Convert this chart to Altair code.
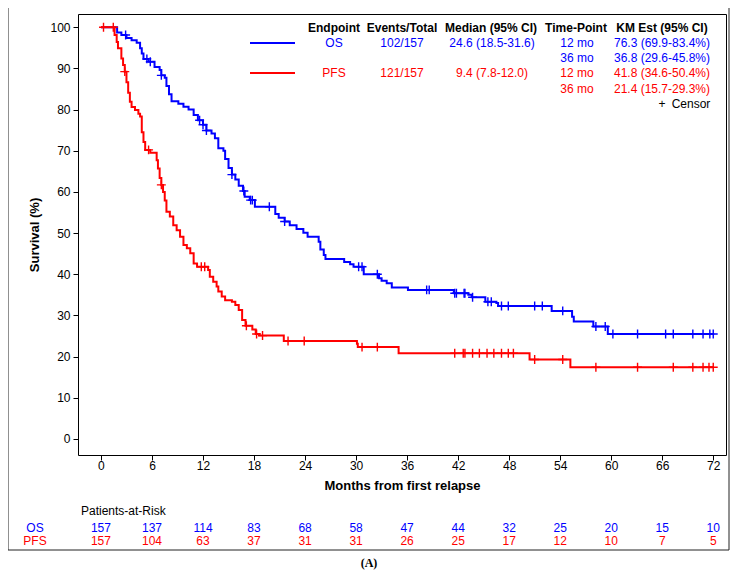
import altair as alt
import pandas as pd

# ---------------- data ----------------
os_t = [0, 1.9, 2.4, 3.0, 3.6, 4.2, 4.6, 4.8, 5.0, 5.6, 6.3, 6.9, 7.1, 7.5, 7.7, 8.0, 8.3, 9.1, 9.7,
        10.3, 10.9, 11.4, 12.0, 12.4, 13.0, 13.4, 13.8, 14.4, 14.6, 15.0, 15.4, 15.8, 16.2, 16.7, 16.9,
        17.5, 18.1, 20.5, 20.9, 21.6, 22.2, 23.0, 23.8, 24.3, 25.6, 25.8, 26.2, 26.4, 28.6, 29.3, 29.7,
        30.9, 32.7, 33.0, 33.6, 34.2, 36.1, 41.5, 43.2, 43.6, 45.2, 46.5, 46.7, 53.0, 55.4, 55.6, 57.9,
        59.6, 72.0]
os_s = [100, 98.7, 98.1, 97.4, 96.8, 96.2, 94.9, 93.6, 92.3, 91.6, 90.3, 89.6, 88.3, 87.7, 85.7, 83.7,
        82.0, 81.4, 80.7, 80.0, 78.7, 77.4, 76.3, 74.9, 74.2, 73.0, 70.6, 70.0, 68.0, 65.8, 64.2, 63.0,
        61.5, 60.2, 58.8, 58.0, 56.4, 54.6, 53.7, 52.8, 51.9, 51.0, 50.1, 49.1, 47.9, 46.0, 44.7, 43.7,
        43.0, 42.4, 41.8, 40.0, 39.0, 38.4, 37.8, 36.8, 36.2, 35.4, 35.0, 34.4, 33.3, 33.0, 32.3, 31.1,
        29.7, 28.5, 27.3, 25.5, 25.5]
os_cens = [2.9, 5.4, 5.8, 7.1, 11.6, 12.0, 12.4, 15.4, 16.8, 17.6, 17.8, 19.8, 21.6, 30.3, 30.7, 32.5,
           38.3, 38.6, 41.6, 41.8, 42.7, 42.8, 43.7, 45.5, 45.9, 47.1, 47.9, 51.0, 51.9, 54.3, 58.2,
           59.3, 60.2, 63.1, 66.4, 67.3, 69.6, 70.8, 71.6, 72.0]

pfs_t = [0, 1.6, 1.85, 2.0, 2.4, 2.6, 2.8, 3.0, 3.2, 3.4, 3.6, 4.0, 4.4, 4.6, 4.8, 5.0, 5.2, 5.8, 6.55,
         6.7, 6.9, 7.1, 7.3, 7.5, 7.7, 8.1, 8.5, 8.9, 9.3, 9.7, 10.1, 10.5, 10.9, 11.3, 12.6, 12.8, 13.2,
         13.6, 13.8, 14.2, 14.6, 15.4, 15.8, 16.2, 16.6, 17.0, 17.8, 18.2, 18.6, 21.5, 30.1, 30.2, 35.0,
         50.4, 55.2, 72.0]
pfs_s = [100, 98.1, 96.4, 94.9, 92.4, 90.8, 89.2, 86.6, 84.1, 81.9, 80.6, 79.9, 79.0, 78.3, 74.5, 72.1,
         70.2, 69.5, 67.7, 65.7, 63.4, 61.7, 60.0, 57.9, 55.2, 54.0, 51.9, 50.7, 49.1, 47.1, 46.3, 45.1,
         42.6, 41.8, 41.0, 39.4, 38.2, 37.0, 35.8, 34.6, 33.7, 33.3, 32.5, 31.3, 28.9, 27.5, 26.6, 25.5,
         25.1, 23.8, 23.1, 22.3, 20.8, 19.3, 17.4, 17.4]
pfs_cens = [0.3, 1.45, 2.8, 5.6, 7.1, 11.8, 12.2, 17.1, 18.3, 19.0, 22.0, 23.9, 30.7, 32.5, 41.6, 42.6,
            42.8, 43.7, 44.5, 45.4, 46.2, 47.1, 47.9, 48.5, 51.0, 54.3, 58.2, 63.1, 67.3, 69.6, 70.8,
            71.5, 72.0]

risk_months = [0, 6, 12, 18, 24, 30, 36, 42, 48, 54, 60, 66, 72]
os_risk = [157, 137, 114, 83, 68, 58, 47, 44, 32, 25, 20, 15, 10]
pfs_risk = [157, 104, 63, 37, 31, 31, 26, 25, 17, 12, 10, 7, 5]

BLUE = "#0000ff"
RED = "#ff0000"
FONT = "Liberation Sans"
W, H = 648, 441
XDOM = [-2.7, 73.5]
YDOM = [-3.9, 103.2]


def surv_at(ts, ss, t):
    val = ss[0]
    for a, b in zip(ts, ss):
        if a <= t:
            val = b
    return val


lines = pd.DataFrame(
    [{"t": a, "s": b, "ep": "OS"} for a, b in zip(os_t, os_s)]
    + [{"t": a, "s": b, "ep": "PFS"} for a, b in zip(pfs_t, pfs_s)]
)
cens = pd.DataFrame(
    [{"t": c, "s": surv_at(os_t, os_s, c), "ep": "OS"} for c in os_cens]
    + [{"t": c, "s": surv_at(pfs_t, pfs_s, c), "ep": "PFS"} for c in pfs_cens]
)

xscale = alt.Scale(domain=XDOM, nice=False, zero=False)
yscale = alt.Scale(domain=YDOM, nice=False, zero=False)
cscale = alt.Scale(domain=["OS", "PFS"], range=[BLUE, RED])

xaxis = alt.Axis(values=risk_months, title="Months from first relapse", grid=False, domain=False,
                 tickSize=5, tickColor="black", labelColor="black", labelFont=FONT, labelFontSize=12,
                 labelPadding=0, titleFont=FONT, titleFontSize=13, titleFontWeight="bold",
                 titleColor="black", titlePadding=8)
yaxis = alt.Axis(values=list(range(0, 101, 10)), title="Survival (%)", grid=False, domain=False,
                 tickSize=5, tickColor="black", labelColor="black", labelFont=FONT, labelFontSize=12,
                 labelPadding=3, titleFont=FONT, titleFontSize=13, titleFontWeight="bold",
                 titleColor="black", titlePadding=8)

curves = alt.Chart(lines).mark_line(interpolate="step-after", strokeWidth=2).encode(
    x=alt.X("t:Q", scale=xscale, axis=xaxis),
    y=alt.Y("s:Q", scale=yscale, axis=yaxis),
    color=alt.Color("ep:N", scale=cscale, legend=None),
    detail="ep:N",
)

censors = alt.Chart(cens).mark_point(
    shape="M -1 0 L 1 0 M 0 -1 L 0 1", filled=False, size=80, strokeWidth=1.4, opacity=1
).encode(
    x=alt.X("t:Q", scale=xscale, axis=None),
    y=alt.Y("s:Q", scale=yscale, axis=None),
    color=alt.Color("ep:N", scale=cscale, legend=None),
)

# ---------------- legend table (pixel positions inside plot area) ----------------
OX, OY = 78, 14  # page offset of plot origin
hdr_cols = ["Endpoint", "Events/Total", "Median (95% CI)", "Time-Point", "KM Est (95% CI)"]
hdr_x = [334, 402, 491, 576, 662]
body = [
    ("OS", 334, 43, BLUE), ("102/157", 402, 43, BLUE), ("24.6 (18.5-31.6)", 492, 43, BLUE),
    ("12 mo", 577, 43, BLUE), ("76.3 (69.9-83.4%)", 662, 43, BLUE),
    ("36 mo", 577, 58, BLUE), ("36.8 (29.6-45.8%)", 662, 58, BLUE),
    ("PFS", 334, 73, RED), ("121/157", 402, 73, RED), ("9.4 (7.8-12.0)", 492, 73, RED),
    ("12 mo", 577, 73, RED), ("41.8 (34.6-50.4%)", 662, 73, RED),
    ("36 mo", 577, 89, RED), ("21.4 (15.7-29.3%)", 662, 89, RED),
    ("+", 662, 104, "black"), ("Censor", 691, 104, "black"),
]
hdr_df = pd.DataFrame({"txt": hdr_cols, "px": [x - OX for x in hdr_x], "py": [28 - OY] * 5})
body_df = pd.DataFrame({"txt": [b[0] for b in body], "px": [b[1] - OX for b in body],
                        "py": [b[2] - OY for b in body], "col": [b[3] for b in body]})

hdr = alt.Chart(hdr_df).mark_text(font=FONT, fontSize=12, fontWeight="bold", color="black",
                                  align="center", baseline="middle").encode(
    x=alt.X("px:Q", scale=None, axis=None), y=alt.Y("py:Q", scale=None, axis=None), text="txt:N")
bod = alt.Chart(body_df).mark_text(font=FONT, fontSize=12, align="center", baseline="middle").encode(
    x=alt.X("px:Q", scale=None, axis=None), y=alt.Y("py:Q", scale=None, axis=None), text="txt:N",
    color=alt.Color("col:N", scale=None))

leg_df = pd.DataFrame({"x1": [250 - OX, 250 - OX], "x2": [295 - OX, 295 - OX],
                       "yy": [43 - OY, 73 - OY], "col": [BLUE, RED]})
leg_lines = alt.Chart(leg_df).mark_rule(strokeWidth=2).encode(
    x=alt.X("x1:Q", scale=None, axis=None), x2="x2:Q",
    y=alt.Y("yy:Q", scale=None, axis=None), color=alt.Color("col:N", scale=None))

# ---------------- risk table ----------------
risk_df = pd.DataFrame(
    [{"t": m, "n": str(n), "row": "OS", "py": 528 - OY} for m, n in zip(risk_months, os_risk)]
    + [{"t": m, "n": str(n), "row": "PFS", "py": 541 - OY} for m, n in zip(risk_months, pfs_risk)]
)
risk = alt.Chart(risk_df).mark_text(font=FONT, fontSize=12, align="center", baseline="middle").encode(
    x=alt.X("t:Q", scale=xscale, axis=None),
    y=alt.Y("py:Q", scale=None, axis=None),
    text="n:N",
    color=alt.Color("row:N", scale=cscale, legend=None),
)
rlab_df = pd.DataFrame({"txt": ["Patients-at-Risk", "OS", "PFS"],
                        "px": [81 - OX, 35 - OX, 35 - OX],
                        "py": [511 - OY, 528 - OY, 541 - OY],
                        "col": ["black", BLUE, RED]})
rlab1 = alt.Chart(rlab_df.iloc[:1]).mark_text(font=FONT, fontSize=12, align="left", baseline="middle",
                                              color="black").encode(
    x=alt.X("px:Q", scale=None, axis=None), y=alt.Y("py:Q", scale=None, axis=None), text="txt:N")
rlab2 = alt.Chart(rlab_df.iloc[1:]).mark_text(font=FONT, fontSize=12, align="center",
                                              baseline="middle").encode(
    x=alt.X("px:Q", scale=None, axis=None), y=alt.Y("py:Q", scale=None, axis=None), text="txt:N",
    color=alt.Color("col:N", scale=None))

caption_df = pd.DataFrame({"txt": ["(A)"], "px": [369 - OX], "py": [563 - OY]})
caption = alt.Chart(caption_df).mark_text(font="Liberation Serif", fontSize=12, fontWeight="bold",
                                          color="black", align="center", baseline="middle").encode(
    x=alt.X("px:Q", scale=None, axis=None), y=alt.Y("py:Q", scale=None, axis=None), text="txt:N")

# ---------------- outer figure frame ----------------
vframe = pd.DataFrame({"fx": [8 - OX, 729 - OX], "fy1": [8 - OY, 8 - OY], "fy2": [550 - OY, 550 - OY]})
vlines = alt.Chart(vframe).mark_rule(color="#222222", strokeWidth=1).encode(
    x=alt.X("fx:Q", scale=None, axis=None), y=alt.Y("fy1:Q", scale=None, axis=None), y2="fy2:Q")
hframe = pd.DataFrame({"fx1": [8 - OX], "fx2": [729 - OX], "fy": [550 - OY]})
hlines = alt.Chart(hframe).mark_rule(color="#222222", strokeWidth=1).encode(
    x=alt.X("fx1:Q", scale=None, axis=None), x2="fx2:Q", y=alt.Y("fy:Q", scale=None, axis=None))

chart = alt.layer(
    curves, censors, leg_lines, hdr, bod, risk, rlab1, rlab2, caption, vlines, hlines
).resolve_scale(
    x="independent", y="independent", color="independent"
).properties(
    width=W, height=H,
    autosize=alt.AutoSizeParams(type="none"),
    padding={"left": OX - 8, "top": OY - 8, "right": 722 - (OX - 8) - W, "bottom": 563 - (OY - 8) - H},
    background="white",
).configure_view(stroke="black", strokeWidth=1)

chart.save("out.html", embed_options={"renderer": "svg", "actions": False})
